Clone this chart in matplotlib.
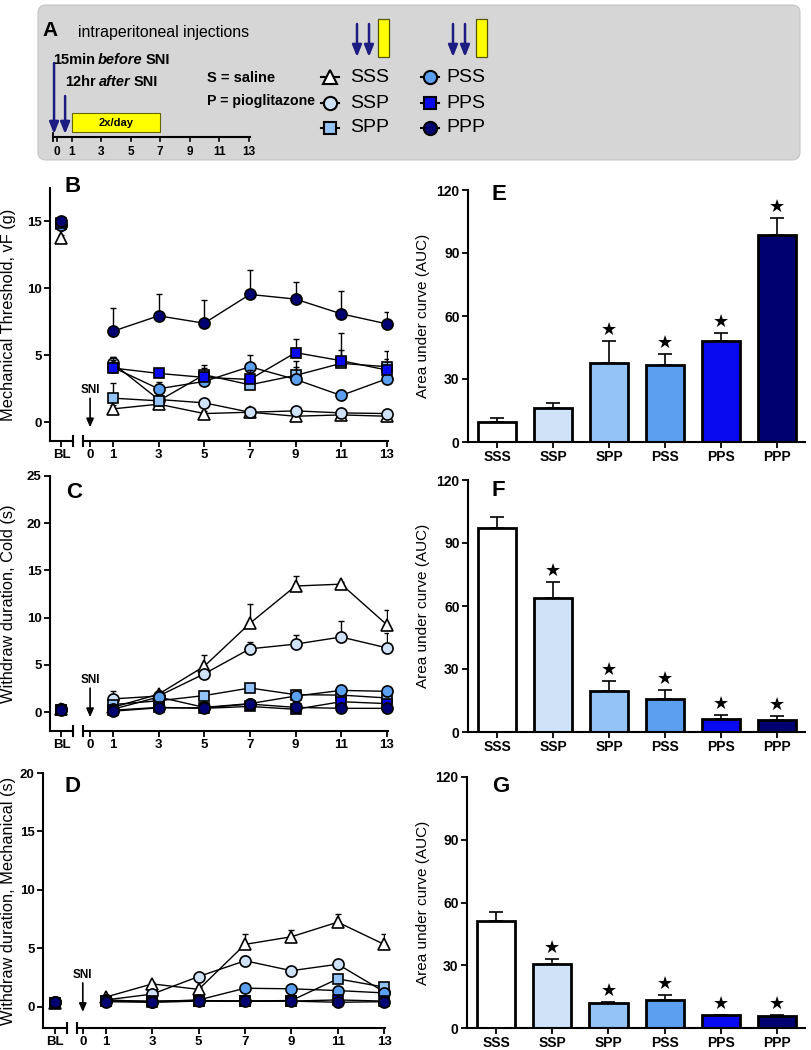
import matplotlib.pyplot as plt
import numpy as np
from matplotlib.patches import FancyBboxPatch, Rectangle

plt.rcParams['font.family'] = ['Liberation Sans', 'DejaVu Sans']
NARROW = ['Liberation Sans Narrow', 'Liberation Sans', 'DejaVu Sans']

# ---- data ----
groups = ['SSS', 'SSP', 'SPP', 'PSS', 'PPS', 'PPP']
colors = ['#ffffff', '#cfe2f8', '#94c3f7', '#5a9ff0', '#0a0af0', '#000070']
markers = ['^', 'o', 's', 'o', 's', 'o']
msizes = [8.5, 8, 7, 8, 7, 8]
days = [1, 3, 5, 7, 9, 11, 13]
timeline_ticks = [0, 1, 3, 5, 7, 9, 11, 13]

# B: mechanical threshold (g)
mech_bl = [13.8, 14.7, 14.8, 14.7, 14.9, 15.0]
mech = [[1.0, 1.35, 0.65, 0.75, 0.45, 0.55, 0.45],
        [4.4, 1.7, 1.45, 0.75, 0.85, 0.7, 0.65],
        [1.8, 1.6, 3.55, 2.8, 3.5, 4.4, 4.15],
        [4.1, 2.5, 3.05, 4.15, 3.2, 2.0, 3.25],
        [4.05, 3.65, 3.35, 3.2, 5.2, 4.6, 3.9],
        [6.8, 7.95, 7.4, 9.55, 9.2, 8.1, 7.35]]
mech_err = [[0.3, 0.3, 0.2, 0.2, 0.1, 0.15, 0.1],
            [0.5, 0.3, 0.3, 0.15, 0.2, 0.15, 0.15],
            [1.1, 0.3, 0.5, 0.4, 0.6, 1.0, 0.6],
            [0.8, 0.5, 0.6, 0.85, 1.4, 0.4, 0.5],
            [0.6, 0.3, 0.9, 0.7, 1.05, 2.1, 1.4],
            [1.7, 1.65, 1.7, 1.85, 1.3, 1.7, 0.85]]

# C: withdraw duration, cold (s)
cold_bl = [0.3, 0.3, 0.2, 0.3, 0.2, 0.25]
cold = [[0.5, 1.9, 4.85, 9.4, 13.35, 13.55, 9.25],
        [1.4, 1.7, 4.05, 6.7, 7.2, 7.95, 6.8],
        [0.8, 1.2, 1.75, 2.55, 1.85, 1.8, 1.5],
        [0.3, 1.6, 0.5, 0.9, 1.7, 2.3, 2.2],
        [0.2, 0.5, 0.4, 0.6, 0.3, 1.1, 0.9],
        [0.1, 0.45, 0.45, 0.85, 0.5, 0.4, 0.4]]
cold_err = [[0.3, 0.3, 1.25, 2.0, 1.05, 0.2, 1.6],
            [0.8, 0.3, 0.3, 0.75, 1.0, 1.7, 1.55],
            [0.3, 0.3, 0.3, 0.3, 0.3, 0.3, 0.3],
            [0.3, 0.3, 0.2, 0.3, 0.3, 0.4, 0.5],
            [0.2, 0.2, 0.2, 0.2, 0.2, 0.2, 0.2],
            [0.2, 0.2, 0.2, 0.2, 0.2, 0.2, 0.2]]

# D: withdraw duration, mechanical (s)
dur_bl = [0.35, 0.4, 0.3, 0.4, 0.35, 0.4]
dur = [[0.85, 1.97, 1.5, 5.35, 6.0, 7.25, 5.35],
       [0.6, 1.1, 2.6, 3.95, 3.1, 3.65, 1.3],
       [0.5, 0.5, 0.55, 0.5, 0.55, 2.4, 1.7],
       [0.6, 0.45, 0.6, 1.6, 1.55, 1.4, 1.2],
       [0.5, 0.45, 0.5, 0.5, 0.5, 0.6, 0.5],
       [0.45, 0.4, 0.5, 0.5, 0.5, 0.4, 0.45]]
dur_err = [[0.2, 0.2, 0.2, 0.9, 0.6, 0.7, 0.85],
           [0.15, 0.2, 0.2, 0.4, 0.2, 0.2, 0.2],
           [0.1, 0.1, 0.1, 0.1, 0.1, 0.2, 0.2],
           [0.1, 0.1, 0.1, 0.2, 0.2, 0.2, 0.2],
           [0.1, 0.1, 0.1, 0.1, 0.1, 0.1, 0.1],
           [0.1, 0.1, 0.1, 0.1, 0.1, 0.1, 0.1]]

# E-G: area under curve
auc_e = [9.5, 16.2, 37.4, 36.6, 48.0, 98.6]
auc_e_err = [2.1, 2.6, 10.8, 5.4, 3.7, 8.2]
auc_e_star = [False, False, True, True, True, True]
auc_f = [97.0, 63.6, 19.6, 15.6, 6.0, 5.6]
auc_f_err = [5.5, 7.9, 4.7, 4.3, 2.0, 1.9]
auc_f_star = [False, True, True, True, True, True]
auc_g = [51.2, 30.7, 11.9, 13.5, 6.0, 5.9]
auc_g_err = [4.1, 2.4, 0.5, 2.4, 0.4, 0.3]
auc_g_star = [False, True, True, True, True, True]

W, H = 812, 1050
fig = plt.figure(figsize=(W / 100, H / 100), dpi=100)
renderer = fig.canvas.get_renderer()


def px_axes(x0, y0, x1, y1):
    return fig.add_axes([x0 / W, 1 - y1 / H, (x1 - x0) / W, (y1 - y0) / H])


def panel_letter(x, y, s):
    fig.text(x / W, 1 - y / H, s, ha='center', va='center', fontsize=16, fontweight='bold')


def style_ticks(ax, size):
    ax.tick_params(direction='out', length=4, width=1.3, labelsize=size, pad=2)
    for lab in ax.get_xticklabels() + ax.get_yticklabels():
        lab.set_fontweight('bold')


# ---- panel A (schematic) ----
axA = px_axes(0, 0, W, 165)
axA.set_xlim(0, W)
axA.set_ylim(165, 0)
axA.axis('off')
axA.add_patch(FancyBboxPatch((46, 13), 746, 139, boxstyle='round,pad=8',
                             fc='#d6d6d6', ec='#c4c4c4', lw=0.8))
navy = '#1c1c82'


def day_px(d):
    return 57 + 14.75 * d


def fit_text(x, y, s, width, fs, **kw):
    # size the text so it spans roughly the same width as in the original
    t = axA.text(x, y, s, fontsize=fs, va='center', **kw)
    w = t.get_window_extent(renderer).width
    t.set_fontsize(fs * width / w)
    return t


def rich(x, y, parts, width, fs, **kw):
    gap = 3
    texts = [axA.text(x, y, s, style=st, fontsize=fs, va='center', **kw) for s, st in parts]
    total = sum(t.get_window_extent(renderer).width for t in texts)
    fs2 = fs * (width - gap * (len(texts) - 1)) / total
    for t in texts:
        t.set_fontsize(fs2)
        t.set_x(x)
        x += t.get_window_extent(renderer).width + gap


axA.plot([53, day_px(13) + 1], [137, 137], color='k', lw=1.5)
axA.plot([53, 53], [133, 141], color='k', lw=1.3)
for d in timeline_ticks:
    axA.plot([day_px(d)] * 2, [137, 141], color='k', lw=1.2)
    axA.text(day_px(d), 152, str(d), ha='center', va='center', fontsize=8.5,
             fontweight='bold', family=NARROW)
axA.add_patch(Rectangle((day_px(1), 113), day_px(7) - day_px(1), 19,
                        fc='#ffff00', ec='#666600', lw=0.8))
axA.text((day_px(1) + day_px(7)) / 2, 123, '2x/day', ha='center', va='center',
         fontsize=8, fontweight='bold', family=NARROW)


def down_arrow(x, y0, y1):
    axA.annotate('', xy=(x, y1), xytext=(x, y0),
                 arrowprops=dict(arrowstyle='-|>,head_width=0.28,head_length=0.7',
                                 color=navy, lw=1.8, shrinkA=0, shrinkB=0))


down_arrow(day_px(-0.2), 63, 134)
down_arrow(day_px(0.55), 96, 134)

axA.text(42, 31, 'A', fontsize=15, fontweight='bold', va='center')
fit_text(78, 32, 'intraperitoneal injections', 172, 12, family=NARROW)
rich(53, 60, [('15min', 'normal'), ('before', 'italic'), ('SNI', 'normal')], 118, 11,
     fontweight='bold', family=NARROW)
rich(65, 82, [('12hr', 'normal'), ('after', 'italic'), ('SNI', 'normal')], 92, 11,
     fontweight='bold', family=NARROW)
fit_text(207, 78, 'S = saline', 68, 10, fontweight='bold', family=NARROW)
fit_text(207, 101, 'P = pioglitazone', 108, 10, fontweight='bold', family=NARROW)

leg_rows = [77, 103, 128]
for i, g in enumerate(groups):
    col, row = divmod(i, 3)
    mx = 330 if col == 0 else 430
    tx = 350 if col == 0 else 446
    y = leg_rows[row]
    axA.plot([mx - 9, mx + 9], [y, y], color='k', lw=1.5)
    axA.plot(mx, y, marker=markers[i], ms=msizes[i] + 1.5, mfc=colors[i], mec='k', mew=1.5)
    axA.text(tx, y, g, fontsize=14, va='center', family=['Liberation Sans'])

for ax_x, bx in [(357, 378), (453, 476)]:
    down_arrow(ax_x, 24, 57)
    down_arrow(ax_x + 12, 24, 57)
    axA.add_patch(Rectangle((bx, 19), 11, 38, fc='#ffff00', ec='#555500', lw=0.9))


# ---- time-course panels (B, C, D) ----
def line_panel(top, bottom, xs, xbe, xm, xr, xlim_main, ylim, yticks, ylabel,
               bl_vals, vals, errs):
    axb = px_axes(xs, top, xbe, bottom)
    axm = px_axes(xm, top, xr, bottom)
    for ax in (axb, axm):
        ax.set_ylim(*ylim)
        ax.patch.set_alpha(0)
        for s in ('top', 'right'):
            ax.spines[s].set_visible(False)
        for s in ('left', 'bottom'):
            ax.spines[s].set_linewidth(1.5)
    axm.spines['left'].set_visible(False)
    axm.set_yticks([])
    axb.set_xlim(-1, 1)
    axb.set_xticks([0])
    axb.set_xticklabels(['BL'])
    axb.set_yticks(yticks)
    axm.set_xlim(*xlim_main)
    axm.set_xticks(timeline_ticks)
    style_ticks(axb, 9.5)
    style_ticks(axm, 9.5)
    axb.plot([1, 1], [-0.018, 0.018], transform=axb.transAxes, color='k', lw=1.5, clip_on=False)
    axm.plot([0, 0], [-0.018, 0.018], transform=axm.transAxes, color='k', lw=1.5, clip_on=False)
    axb.set_ylabel(ylabel, fontsize=11.8)
    axb.yaxis.set_label_coords((16 - xs) / (xbe - xs), 0.5)

    for i in range(len(groups)):
        z = 3 + i
        v = np.array(vals[i])
        e = np.array(errs[i])
        axm.errorbar(days, v, yerr=[np.zeros_like(e), e], fmt='none', ecolor='k',
                     elinewidth=1, capsize=2.5, capthick=1, zorder=z)
        axm.plot(days, v, '-', color='k', lw=1, marker=markers[i], ms=msizes[i],
                 mfc=colors[i], mec='k', mew=1.2, clip_on=False, zorder=z + 0.5)
        axb.errorbar([0], [bl_vals[i]], yerr=[[0], [0.2]], fmt='none', ecolor='k',
                     elinewidth=1, capsize=2.5, zorder=z)
        axb.plot([0], [bl_vals[i]], marker=markers[i], ms=msizes[i], mfc=colors[i],
                 mec='k', mew=1.2, clip_on=False, zorder=z + 0.5)

    # SNI marker at day 0
    u = (ylim[1] - ylim[0]) / (bottom - top)
    axm.annotate('', xy=(0, -5 * u), xytext=(0, 24 * u),
                 arrowprops=dict(arrowstyle='-|>,head_width=0.22,head_length=0.5',
                                 color='k', lw=1.2, shrinkA=0, shrinkB=0))
    axm.text(0, 32 * u, 'SNI', ha='center', va='center', fontsize=8.5, fontweight='bold')
    return axb, axm


line_panel(188, 441, 50, 73, 83, 388, (-0.31, 13.05), (-1.4, 17.5), [0, 5, 10, 15],
           'Mechanical Threshold, vF (g)', mech_bl, mech, mech_err)
line_panel(476, 731, 50, 73, 83, 388, (-0.31, 13.05), (-2.0, 25), [0, 5, 10, 15, 20, 25],
           'Withdraw duration, Cold (s)', cold_bl, cold, cold_err)
line_panel(773, 1028, 43, 67, 77, 385, (-0.25, 13.04), (-1.8, 20), [0, 5, 10, 15, 20],
           'Withdraw duration, Mechanical (s)', dur_bl, dur, dur_err)


# ---- AUC bar panels (E, F, G) ----
def bar_panel(top, bottom, left, right, means, errs, stars):
    ax = px_axes(left, top, right, bottom)
    x = np.arange(len(groups))
    ax.errorbar(x, means, yerr=[np.zeros(len(errs)), errs], fmt='none', ecolor='k',
                elinewidth=1.2, capsize=5, capthick=1.2, zorder=1)
    ax.bar(x, means, width=0.68, color=colors, edgecolor='k', linewidth=2, zorder=2)
    for i, s in enumerate(stars):
        if s:
            ax.annotate('\u2605', xy=(i, means[i] + errs[i]), xytext=(0, 1.5),
                        textcoords='offset points', ha='center', va='bottom',
                        fontsize=13, family=['DejaVu Sans'])
    ax.set_xlim(-0.52, 5.5)
    ax.set_ylim(0, 120)
    ax.set_yticks([0, 30, 60, 90, 120])
    ax.set_xticks(x)
    ax.set_xticklabels(groups)
    for s in ('top', 'right'):
        ax.spines[s].set_visible(False)
    for s in ('left', 'bottom'):
        ax.spines[s].set_linewidth(1.5)
    style_ticks(ax, 10)
    ax.set_ylabel('Area under curve (AUC)', fontsize=11)
    ax.yaxis.set_label_coords((430 - left) / (right - left), 0.5)
    return ax


bar_panel(190, 442, 468, 805, auc_e, auc_e_err, auc_e_star)
bar_panel(480, 732, 468, 805, auc_f, auc_f_err, auc_f_star)
bar_panel(777, 1028, 467, 805, auc_g, auc_g_err, auc_g_star)

for x, y, s in [(73, 186, 'B'), (74, 493, 'C'), (73, 786, 'D'),
                (499, 195, 'E'), (498, 491, 'F'), (501, 787, 'G')]:
    panel_letter(x, y, s)

fig.savefig('out.png', dpi=100)
